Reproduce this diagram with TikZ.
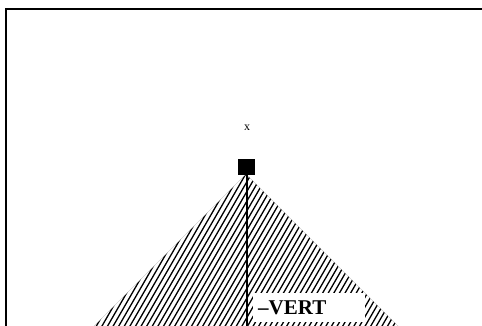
\documentclass[tikz,border=0pt]{standalone}
\usepackage{fontspec}
\setmainfont{Liberation Serif}
\usetikzlibrary{positioning}

\begin{document}
\begin{tikzpicture}[x=1pt, y=1pt,
  hatchline/.style={line width=1.3pt},
  apexbox/.style={draw, fill=black, minimum width=16pt, minimum height=15pt, inner sep=0pt},
  tag/.style={fill=white, inner xsep=5pt, text width=102pt, minimum height=29pt, align=left, font=\fontsize{21}{23}\selectfont\bfseries}]

\useasboundingbox (0,0) rectangle (482,325);
\clip (0,0) rectangle (482,325);

% frame
\draw[line width=2pt] (6,-10) -- (6,315.7) -- (500,315.7);

% hatched cone below the apex
\coordinate (top) at (246,151);
\begin{scope}
  \clip (top) -- ++(-190,-190) -- ++(380,0) -- cycle;
  \foreach \s in {0,...,90}
    \draw[hatchline] (-60+5.6*\s,-10) -- ++(100,173.2);
\end{scope}
\draw[gray!60, line width=0.3pt] (top) -- ++(-190,-190) (top) -- ++(190,-190);

% apex marker and label
\node[apexbox] (apex) at (246,158.5) {};
\node[font=\fontsize{12}{13}\selectfont] (xlab) at (247,197) {x};

% vertical line
\coordinate (foot) at (247,-10);
\draw[line width=1.5pt] (apex.south) ++(1,0) -- (foot);

% label box
\node[tag, anchor=south west] (vert) at (253,3) {\textendash VERT};

\end{tikzpicture}
\end{document}
